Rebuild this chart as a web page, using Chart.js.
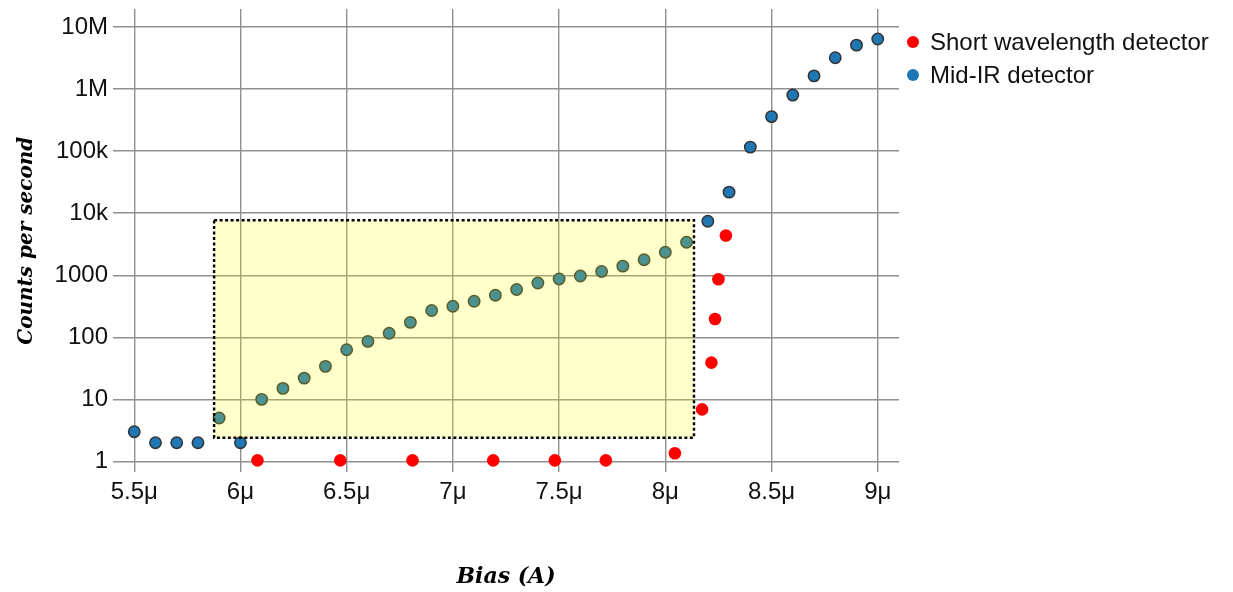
<!DOCTYPE html>
<html>
<head>
<meta charset="utf-8">
<script src="https://cdn.jsdelivr.net/npm/chart.js@4.4.1/dist/chart.umd.min.js"></script>
<style>
  html, body { margin: 0; padding: 0; background: #fff; }
  #wrap { position: relative; width: 1233px; height: 592px; }
  #legend { position: absolute; left: 907px; top: 25px; font-family: 'Liberation Sans', Arial, sans-serif; font-size: 24px; color: #111; }
  #legend .row { display: flex; align-items: center; height: 33px; white-space: nowrap; }
  #legend .dot { width: 12px; height: 12px; border-radius: 50%; margin-right: 11px; flex: none; }
</style>
</head>
<body>
<div id="wrap">
  <canvas id="myChart" width="1233" height="592"></canvas>
  <div id="legend"></div>
</div>
<script>
// bias in micro-amps
var shortBias = [6.08, 6.47, 6.81, 7.19, 7.48, 7.72, 8.045, 8.173, 8.217, 8.234, 8.25, 8.285];
var shortCounts = [1.04, 1.04, 1.04, 1.04, 1.04, 1.04, 1.35, 6.9, 39, 197, 860, 4370];

var midBias = [5.5, 5.6, 5.7, 5.8, 5.9, 6.0, 6.1, 6.2, 6.3, 6.4, 6.5, 6.6, 6.7, 6.8, 6.9, 7.0, 7.1, 7.2,
               7.3, 7.4, 7.5, 7.6, 7.7, 7.8, 7.9, 8.0, 8.1, 8.2, 8.3, 8.4, 8.5, 8.6, 8.7, 8.8, 8.9, 9.0];
var midCounts = [3, 2, 2, 2, 5, 2, 10, 15, 22, 34, 63, 86, 116, 174, 270, 316, 380, 475,
                 590, 750, 870, 970, 1150, 1400, 1780, 2350, 3400, 7400, 21800, 116000, 360000, 800000, 1630000, 3200000, 5100000, 6400000];

// highlighted region (bias range, counts range)
var boxBias = [5.876, 8.135];
var boxCounts = [2.41, 7700];

var xTickValues = [5.5, 6, 6.5, 7, 7.5, 8, 8.5, 9];
var xTickLabels = ['5.5μ', '6μ', '6.5μ', '7μ', '7.5μ', '8μ', '8.5μ', '9μ'];
var yTickValues = [1, 10, 100, 1000, 10000, 100000, 1000000, 10000000];
var yTickLabels = ['1', '10', '100', '1000', '10k', '100k', '1M', '10M'];

var seriesNames = ['Short wavelength detector', 'Mid-IR detector'];
var seriesColors = ['#ff0000', '#1f77b4'];

function toPoints(xs, ys) {
    return xs.map(function(v, i) { return {x: v, y: ys[i]}; });
}

var gridColor = '#8f8f8f';
var tickFont = {family: "'Liberation Sans', Arial, sans-serif", size: 24};
var xTitleFont = {family: "'DejaVu Serif', serif", size: 22, style: 'italic', weight: 'bold'};
var yTitleFont = {family: "'DejaVu Serif', serif", size: 20, style: 'italic', weight: 'bold'};

var boxPlugin = {
    id: 'regionBox',
    afterDatasetsDraw: function(chart) {
        var ctx = chart.ctx;
        var xs = chart.scales.x, ys = chart.scales.y;
        var l = xs.getPixelForValue(boxBias[0]);
        var r = xs.getPixelForValue(boxBias[1]);
        var t = ys.getPixelForValue(boxCounts[1]);
        var b = ys.getPixelForValue(boxCounts[0]);
        ctx.save();
        ctx.fillStyle = 'rgba(255, 255, 0, 0.2)';
        ctx.fillRect(l, t, r - l, b - t);
        ctx.setLineDash([3, 2.5]);
        ctx.lineWidth = 2.4;
        ctx.strokeStyle = '#000';
        ctx.strokeRect(l, t, r - l, b - t);
        ctx.restore();
    }
};

// no label overflow padding, the plot edges are set by layout padding
function noPadding(axis) {
    axis.paddingTop = 0;
    axis.paddingBottom = 0;
    axis.paddingLeft = 0;
    axis.paddingRight = 0;
}

var ctx = document.getElementById('myChart').getContext('2d');
var myChart = new Chart(ctx, {
    type: 'scatter',
    data: {
        datasets: [{
            label: seriesNames[0],
            data: toPoints(shortBias, shortCounts),
            backgroundColor: seriesColors[0],
            borderColor: seriesColors[0],
            borderWidth: 0,
            pointRadius: 6.3,
            pointHoverRadius: 6.3
        }, {
            label: seriesNames[1],
            data: toPoints(midBias, midCounts),
            backgroundColor: seriesColors[1],
            borderColor: '#333333',
            borderWidth: 1.5,
            pointRadius: 5.7,
            pointHoverRadius: 5.7
        }]
    },
    options: {
        responsive: false,
        animation: false,
        devicePixelRatio: 1,
        layout: {
            padding: {left: 4, right: 334, top: 9, bottom: 2}
        },
        plugins: {
            tooltip: {enabled: false},
            legend: {display: false}
        },
        scales: {
            x: {
                type: 'linear',
                min: 5.4,
                max: 9.1,
                afterBuildTicks: function(axis) {
                    axis.ticks = xTickValues.map(function(v) { return {value: v}; });
                },
                afterFit: noPadding,
                ticks: {
                    padding: 6,
                    color: '#111',
                    font: tickFont,
                    maxRotation: 0,
                    callback: function(value) {
                        var i = xTickValues.indexOf(value);
                        return i >= 0 ? xTickLabels[i] : '';
                    }
                },
                grid: {color: gridColor, lineWidth: 1.4, drawTicks: false},
                border: {display: false},
                title: {
                    display: true,
                    text: 'Bias (A)',
                    color: '#000',
                    font: xTitleFont,
                    padding: {top: 50.4, bottom: 0}
                }
            },
            y: {
                type: 'logarithmic',
                min: 0.665,
                max: 19500000,
                afterBuildTicks: function(axis) {
                    axis.ticks = yTickValues.map(function(v) { return {value: v}; });
                },
                afterFit: noPadding,
                ticks: {
                    padding: 5,
                    color: '#111',
                    font: tickFont,
                    callback: function(value) {
                        var i = yTickValues.indexOf(value);
                        return i >= 0 ? yTickLabels[i] : '';
                    }
                },
                grid: {color: gridColor, lineWidth: 1.4, drawTicks: false},
                border: {display: false},
                title: {
                    display: true,
                    text: 'Counts per second',
                    color: '#000',
                    font: yTitleFont,
                    padding: {top: 11, bottom: 10.6}
                }
            }
        }
    },
    plugins: [boxPlugin]
});

// legend
var legendEl = document.getElementById('legend');
seriesNames.forEach(function(name, i) {
    var row = document.createElement('div');
    row.className = 'row';
    var dot = document.createElement('span');
    dot.className = 'dot';
    dot.style.background = seriesColors[i];
    var label = document.createElement('span');
    label.textContent = name;
    row.appendChild(dot);
    row.appendChild(label);
    legendEl.appendChild(row);
});
</script>
</body>
</html>
